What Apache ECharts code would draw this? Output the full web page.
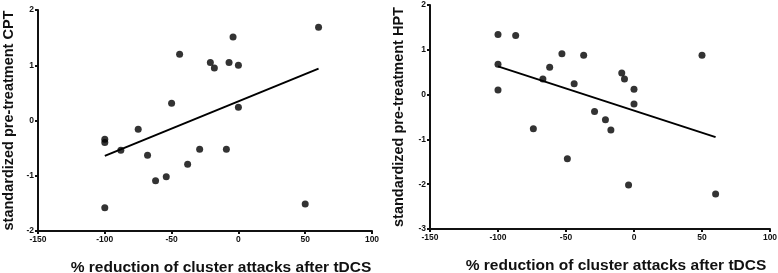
<!DOCTYPE html>
<html>
<head>
<meta charset="utf-8">
<script src="https://cdn.jsdelivr.net/npm/echarts@6/dist/echarts.min.js"></script>
<style>
  html, body { margin: 0; padding: 0; background: #fff; }
  #main { width: 778px; height: 273px; }
</style>
</head>
<body>
<div id="main"></div>
<script>
// left panel: CPT
var cptX = [-100, -100, -100, -88, -75, -68, -62, -54, -50, -44, -38, -29, -21, -18, -9, -7, -4, 0, 0, 50, 60];
var cptY = [-0.34, -0.40, -1.58, -0.54, -0.16, -0.63, -1.09, -1.02, 0.31, 1.20, -0.79, -0.52, 1.05, 0.95, -0.52, 1.05, 1.51, 1.00, 0.24, -1.51, 1.69];
var cptFit = [[-100, -0.64], [60, 0.94]];

// right panel: HPT
var hptX = [-100, -87, -100, -100, -53, -37, -62, -67, -44, -74, -49, -29, -21, -17, -9, -7, 0, 0, -4, 50, 60];
var hptY = [1.34, 1.32, 0.68, 0.10, 0.91, 0.88, 0.61, 0.35, 0.24, -0.76, -1.43, -0.38, -0.56, -0.79, 0.48, 0.35, 0.12, -0.21, -2.02, 0.88, -2.22];
var hptFit = [[-100, 0.63], [60, -0.95]];

var xTicks = [-150, -100, -50, 0, 50, 100];
var xTitle = '% reduction of cluster attacks after tDCS';

function pairs(xs, ys) {
  var out = [];
  for (var i = 0; i < xs.length; i++) {
    out.push([xs[i], ys[i]]);
  }
  return out;
}

var font = 'Arial, "Liberation Sans", sans-serif';
var ink = '#111';

function xAxisOpt(idx) {
  return {
    gridIndex: idx,
    type: 'value',
    min: xTicks[0],
    max: xTicks[xTicks.length - 1],
    interval: 50,
    splitLine: { show: false },
    axisLine: { onZero: false, lineStyle: { color: ink, width: 2 } },
    axisTick: { length: 3, lineStyle: { color: ink, width: 2 } },
    axisLabel: { margin: 4, fontSize: 8.5, fontWeight: 'bold', color: ink, fontFamily: font },
    name: xTitle,
    nameLocation: 'middle',
    nameGap: 29,
    nameTextStyle: { fontSize: 15.5, fontWeight: 'bold', color: ink, fontFamily: font, padding: [0, 0, 0, 32] }
  };
}

function yAxisOpt(idx, min, max, name, gap) {
  return {
    gridIndex: idx,
    type: 'value',
    min: min,
    max: max,
    interval: 1,
    splitLine: { show: false },
    axisLine: { onZero: false, lineStyle: { color: ink, width: 2 } },
    axisTick: { length: 3, lineStyle: { color: ink, width: 2 } },
    axisLabel: { margin: 4, fontSize: 8.5, fontWeight: 'bold', color: ink, fontFamily: font },
    name: name,
    nameLocation: 'middle',
    nameGap: gap,
    nameTextStyle: { fontSize: 14.5, fontWeight: 'bold', color: ink, fontFamily: font }
  };
}

var chart = echarts.init(document.getElementById('main'), null, { renderer: 'canvas' });

var option = {
  backgroundColor: '#ffffff',
  animation: false,
  grid: [
    { left: 38, right: 406, top: 10, bottom: 42, containLabel: false, outerBoundsMode: 'none' },
    { left: 430, right: 8, top: 5, bottom: 44, containLabel: false, outerBoundsMode: 'none' }
  ],
  xAxis: [xAxisOpt(0), xAxisOpt(1)],
  yAxis: [
    yAxisOpt(0, -2, 2, 'standardized pre-treatment CPT', 22),
    yAxisOpt(1, -3, 2, 'standardized pre-treatment HPT', 24)
  ],
  series: [
    {
      type: 'scatter', xAxisIndex: 0, yAxisIndex: 0,
      data: pairs(cptX, cptY),
      symbolSize: 7,
      itemStyle: { color: '#000' }
    },
    {
      type: 'line', xAxisIndex: 0, yAxisIndex: 0,
      data: cptFit,
      showSymbol: false,
      lineStyle: { color: '#000', width: 2 }
    },
    {
      type: 'scatter', xAxisIndex: 1, yAxisIndex: 1,
      data: pairs(hptX, hptY),
      symbolSize: 7,
      itemStyle: { color: '#000' }
    },
    {
      type: 'line', xAxisIndex: 1, yAxisIndex: 1,
      data: hptFit,
      showSymbol: false,
      lineStyle: { color: '#000', width: 2 }
    }
  ]
};

chart.setOption(option);
</script>
</body>
</html>
